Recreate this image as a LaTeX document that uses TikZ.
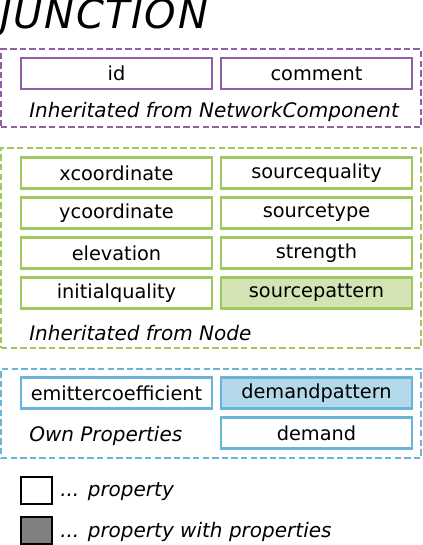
\documentclass[tikz,border=0pt]{standalone}
\usepackage{fontspec}
\setmainfont{DejaVu Sans}
\definecolor{purp}{HTML}{8F5FA8}
\definecolor{grn}{HTML}{9FC95E}
\definecolor{grnfill}{HTML}{D3E4B4}
\definecolor{blu}{HTML}{6AB3D9}
\definecolor{blufill}{HTML}{B3D9EA}
\begin{document}
\begin{tikzpicture}[x=0.75pt,y=-0.75pt,
  prop/.style={draw=#1,line width=2.2pt,fill=white,minimum width=143.25pt,minimum height=23.25pt,inner sep=0pt,font=\fontsize{14.5}{16}\selectfont},
  group/.style={draw=#1,line width=2.2pt,dash pattern=on 4.8pt off 2.4pt,minimum width=315pt,inner sep=0pt},
  lbl/.style={anchor=west,inner sep=0pt,font=\fontsize{15}{17}\selectfont\itshape},
  legbox/.style={draw=black,line width=2.2pt,minimum width=23.25pt,minimum height=20.25pt,inner sep=0pt}]
\useasboundingbox (0,0) rectangle (423,545);
\node[anchor=base west,inner sep=0pt,font=\fontsize{30}{32}\selectfont\itshape\addfontfeatures{LetterSpace=4}] (title) at (0,29) {JUNCTION};
% purple group
\node[group=purp,minimum height=58.5pt] (gnc) at (211,88) {};
\node[prop=purp] (id) at (116.5,73.5) {id};
\node[prop=purp] (comment) at (316.5,73.5) {comment};
\node[lbl] (lnc) at (29,112) {Inheritated from NetworkComponent};
% green group
\node[group=grn,minimum height=150pt] (gnode) at (211,248) {};
\node[prop=grn] (xc) at (116.5,173) {xcoordinate};
\node[prop=grn] (yc) at (116.5,213) {ycoordinate};
\node[prop=grn] (el) at (116.5,253) {elevation};
\node[prop=grn] (iq) at (116.5,293) {initialquality};
\node[prop=grn] (sq) at (316.5,173) {sourcequality};
\node[prop=grn] (st) at (316.5,213) {sourcetype};
\node[prop=grn] (sg) at (316.5,253) {strength};
\node[prop=grn,fill=grnfill] (sp) at (316.5,293) {sourcepattern};
\node[lbl] (lnode) at (29,333) {Inheritated from Node};
% blue group
\node[group=blu,minimum height=66.75pt] (gown) at (211,413.5) {};
\node[prop=blu] (ec) at (116.5,393) {emittercoefficient};
\node[prop=blu,fill=blufill] (dp) at (316.5,393) {demandpattern};
\node[prop=blu] (dm) at (316.5,433) {demand};
\node[lbl] (lown) at (29,436) {Own Properties};
% legend
\node[legbox,fill=white] (lg1) at (36.5,490.5) {};
\node[legbox,fill=black!50] (lg2) at (36.5,530.5) {};
\node[lbl] (lt1) at (60,492) {... property};
\node[lbl] (lt2) at (60,532) {... property with properties};
\end{tikzpicture}
\end{document}
